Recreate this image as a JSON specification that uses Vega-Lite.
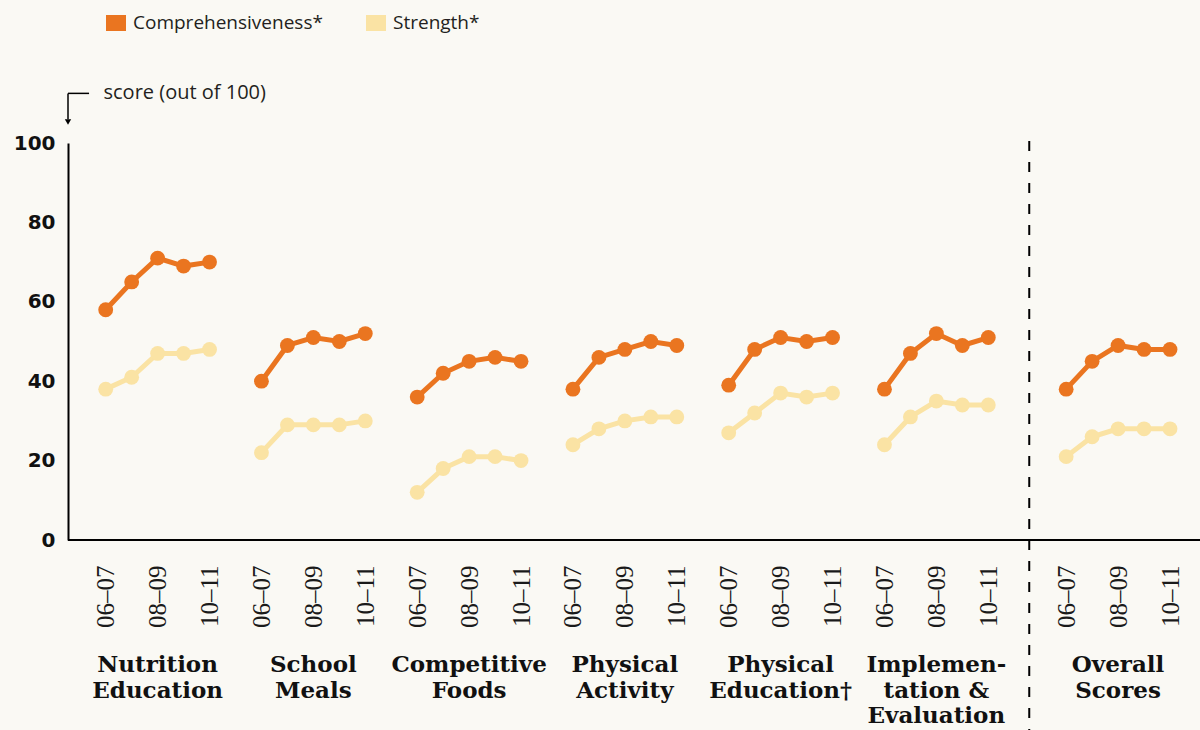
{
  "$schema": "https://vega.github.io/schema/vega-lite/v6.json",
  "width": 1132,
  "height": 397,
  "autosize": {"type": "none"},
  "padding": {"left": 68, "top": 143, "right": 0, "bottom": 190},
  "background": "#FAF9F4",
  "config": {"view": {"stroke": null}},
  "datasets": {
    "scores": [
      {"area": "Nutrition Education", "year": "06–07", "key": "NE 06–07", "measure": "Comprehensiveness", "score": 58},
      {"area": "Nutrition Education", "year": "07–08", "key": "NE 07–08", "measure": "Comprehensiveness", "score": 65},
      {"area": "Nutrition Education", "year": "08–09", "key": "NE 08–09", "measure": "Comprehensiveness", "score": 71},
      {"area": "Nutrition Education", "year": "09–10", "key": "NE 09–10", "measure": "Comprehensiveness", "score": 69},
      {"area": "Nutrition Education", "year": "10–11", "key": "NE 10–11", "measure": "Comprehensiveness", "score": 70},
      {"area": "Nutrition Education", "year": "06–07", "key": "NE 06–07", "measure": "Strength", "score": 38},
      {"area": "Nutrition Education", "year": "07–08", "key": "NE 07–08", "measure": "Strength", "score": 41},
      {"area": "Nutrition Education", "year": "08–09", "key": "NE 08–09", "measure": "Strength", "score": 47},
      {"area": "Nutrition Education", "year": "09–10", "key": "NE 09–10", "measure": "Strength", "score": 47},
      {"area": "Nutrition Education", "year": "10–11", "key": "NE 10–11", "measure": "Strength", "score": 48},
      {"area": "School Meals", "year": "06–07", "key": "SM 06–07", "measure": "Comprehensiveness", "score": 40},
      {"area": "School Meals", "year": "07–08", "key": "SM 07–08", "measure": "Comprehensiveness", "score": 49},
      {"area": "School Meals", "year": "08–09", "key": "SM 08–09", "measure": "Comprehensiveness", "score": 51},
      {"area": "School Meals", "year": "09–10", "key": "SM 09–10", "measure": "Comprehensiveness", "score": 50},
      {"area": "School Meals", "year": "10–11", "key": "SM 10–11", "measure": "Comprehensiveness", "score": 52},
      {"area": "School Meals", "year": "06–07", "key": "SM 06–07", "measure": "Strength", "score": 22},
      {"area": "School Meals", "year": "07–08", "key": "SM 07–08", "measure": "Strength", "score": 29},
      {"area": "School Meals", "year": "08–09", "key": "SM 08–09", "measure": "Strength", "score": 29},
      {"area": "School Meals", "year": "09–10", "key": "SM 09–10", "measure": "Strength", "score": 29},
      {"area": "School Meals", "year": "10–11", "key": "SM 10–11", "measure": "Strength", "score": 30},
      {"area": "Competitive Foods", "year": "06–07", "key": "CF 06–07", "measure": "Comprehensiveness", "score": 36},
      {"area": "Competitive Foods", "year": "07–08", "key": "CF 07–08", "measure": "Comprehensiveness", "score": 42},
      {"area": "Competitive Foods", "year": "08–09", "key": "CF 08–09", "measure": "Comprehensiveness", "score": 45},
      {"area": "Competitive Foods", "year": "09–10", "key": "CF 09–10", "measure": "Comprehensiveness", "score": 46},
      {"area": "Competitive Foods", "year": "10–11", "key": "CF 10–11", "measure": "Comprehensiveness", "score": 45},
      {"area": "Competitive Foods", "year": "06–07", "key": "CF 06–07", "measure": "Strength", "score": 12},
      {"area": "Competitive Foods", "year": "07–08", "key": "CF 07–08", "measure": "Strength", "score": 18},
      {"area": "Competitive Foods", "year": "08–09", "key": "CF 08–09", "measure": "Strength", "score": 21},
      {"area": "Competitive Foods", "year": "09–10", "key": "CF 09–10", "measure": "Strength", "score": 21},
      {"area": "Competitive Foods", "year": "10–11", "key": "CF 10–11", "measure": "Strength", "score": 20},
      {"area": "Physical Activity", "year": "06–07", "key": "PA 06–07", "measure": "Comprehensiveness", "score": 38},
      {"area": "Physical Activity", "year": "07–08", "key": "PA 07–08", "measure": "Comprehensiveness", "score": 46},
      {"area": "Physical Activity", "year": "08–09", "key": "PA 08–09", "measure": "Comprehensiveness", "score": 48},
      {"area": "Physical Activity", "year": "09–10", "key": "PA 09–10", "measure": "Comprehensiveness", "score": 50},
      {"area": "Physical Activity", "year": "10–11", "key": "PA 10–11", "measure": "Comprehensiveness", "score": 49},
      {"area": "Physical Activity", "year": "06–07", "key": "PA 06–07", "measure": "Strength", "score": 24},
      {"area": "Physical Activity", "year": "07–08", "key": "PA 07–08", "measure": "Strength", "score": 28},
      {"area": "Physical Activity", "year": "08–09", "key": "PA 08–09", "measure": "Strength", "score": 30},
      {"area": "Physical Activity", "year": "09–10", "key": "PA 09–10", "measure": "Strength", "score": 31},
      {"area": "Physical Activity", "year": "10–11", "key": "PA 10–11", "measure": "Strength", "score": 31},
      {"area": "Physical Education", "year": "06–07", "key": "PE 06–07", "measure": "Comprehensiveness", "score": 39},
      {"area": "Physical Education", "year": "07–08", "key": "PE 07–08", "measure": "Comprehensiveness", "score": 48},
      {"area": "Physical Education", "year": "08–09", "key": "PE 08–09", "measure": "Comprehensiveness", "score": 51},
      {"area": "Physical Education", "year": "09–10", "key": "PE 09–10", "measure": "Comprehensiveness", "score": 50},
      {"area": "Physical Education", "year": "10–11", "key": "PE 10–11", "measure": "Comprehensiveness", "score": 51},
      {"area": "Physical Education", "year": "06–07", "key": "PE 06–07", "measure": "Strength", "score": 27},
      {"area": "Physical Education", "year": "07–08", "key": "PE 07–08", "measure": "Strength", "score": 32},
      {"area": "Physical Education", "year": "08–09", "key": "PE 08–09", "measure": "Strength", "score": 37},
      {"area": "Physical Education", "year": "09–10", "key": "PE 09–10", "measure": "Strength", "score": 36},
      {"area": "Physical Education", "year": "10–11", "key": "PE 10–11", "measure": "Strength", "score": 37},
      {"area": "Implementation & Evaluation", "year": "06–07", "key": "IE 06–07", "measure": "Comprehensiveness", "score": 38},
      {"area": "Implementation & Evaluation", "year": "07–08", "key": "IE 07–08", "measure": "Comprehensiveness", "score": 47},
      {"area": "Implementation & Evaluation", "year": "08–09", "key": "IE 08–09", "measure": "Comprehensiveness", "score": 52},
      {"area": "Implementation & Evaluation", "year": "09–10", "key": "IE 09–10", "measure": "Comprehensiveness", "score": 49},
      {"area": "Implementation & Evaluation", "year": "10–11", "key": "IE 10–11", "measure": "Comprehensiveness", "score": 51},
      {"area": "Implementation & Evaluation", "year": "06–07", "key": "IE 06–07", "measure": "Strength", "score": 24},
      {"area": "Implementation & Evaluation", "year": "07–08", "key": "IE 07–08", "measure": "Strength", "score": 31},
      {"area": "Implementation & Evaluation", "year": "08–09", "key": "IE 08–09", "measure": "Strength", "score": 35},
      {"area": "Implementation & Evaluation", "year": "09–10", "key": "IE 09–10", "measure": "Strength", "score": 34},
      {"area": "Implementation & Evaluation", "year": "10–11", "key": "IE 10–11", "measure": "Strength", "score": 34},
      {"area": "Overall Scores", "year": "06–07", "key": "OS 06–07", "measure": "Comprehensiveness", "score": 38},
      {"area": "Overall Scores", "year": "07–08", "key": "OS 07–08", "measure": "Comprehensiveness", "score": 45},
      {"area": "Overall Scores", "year": "08–09", "key": "OS 08–09", "measure": "Comprehensiveness", "score": 49},
      {"area": "Overall Scores", "year": "09–10", "key": "OS 09–10", "measure": "Comprehensiveness", "score": 48},
      {"area": "Overall Scores", "year": "10–11", "key": "OS 10–11", "measure": "Comprehensiveness", "score": 48},
      {"area": "Overall Scores", "year": "06–07", "key": "OS 06–07", "measure": "Strength", "score": 21},
      {"area": "Overall Scores", "year": "07–08", "key": "OS 07–08", "measure": "Strength", "score": 26},
      {"area": "Overall Scores", "year": "08–09", "key": "OS 08–09", "measure": "Strength", "score": 28},
      {"area": "Overall Scores", "year": "09–10", "key": "OS 09–10", "measure": "Strength", "score": 28},
      {"area": "Overall Scores", "year": "10–11", "key": "OS 10–11", "measure": "Strength", "score": 28}
    ],
    "groups": [
      {"label": "Nutrition\nEducation", "key": "NE 08–09"},
      {"label": "School\nMeals", "key": "SM 08–09"},
      {"label": "Competitive\nFoods", "key": "CF 08–09"},
      {"label": "Physical\nActivity", "key": "PA 08–09"},
      {"label": "Physical\nEducation†", "key": "PE 08–09"},
      {"label": "Implemen-\ntation &\nEvaluation", "key": "IE 08–09"},
      {"label": "Overall\nScores", "key": "OS 08–09"}
    ]
  },
  "layer": [
    {
      "layer": [
        {
          "data": {"name": "scores"},
          "mark": {"type": "line", "strokeWidth": 5},
          "encoding": {
            "x": {
              "field": "key", "type": "ordinal", "sort": null,
              "scale": {
                "type": "point", "padding": 0, "range": [37.7, 1102],
                "domain": ["NE 06–07","NE 07–08","NE 08–09","NE 09–10","NE 10–11","gap1",
                           "SM 06–07","SM 07–08","SM 08–09","SM 09–10","SM 10–11","gap2",
                           "CF 06–07","CF 07–08","CF 08–09","CF 09–10","CF 10–11","gap3",
                           "PA 06–07","PA 07–08","PA 08–09","PA 09–10","PA 10–11","gap4",
                           "PE 06–07","PE 07–08","PE 08–09","PE 09–10","PE 10–11","gap5",
                           "IE 06–07","IE 07–08","IE 08–09","IE 09–10","IE 10–11","gap6","gap7",
                           "OS 06–07","OS 07–08","OS 08–09","OS 09–10","OS 10–11"]
              },
              "axis": {
                "title": null, "labelAngle": 270, "labelFont": "Liberation Serif", "labelFontSize": 25,
                "labelColor": "#1a1a1a", "labelPadding": 25, "ticks": false, "domain": false,
                "labelOverlap": false, "grid": false,
                "labelExpr": "indexof(['06–07','08–09','10–11'], slice(datum.value, -5)) >= 0 ? slice(datum.value, -5) : ''"
              }
            },
            "y": {
              "field": "score", "type": "quantitative",
              "scale": {"domain": [0, 100], "nice": false},
              "axis": {
                "values": [0, 20, 40, 60, 80, 100], "grid": false, "ticks": false,
                "labelFont": "DejaVu Sans", "labelFontWeight": "bold", "labelFontSize": 20,
                "labelColor": "#111111", "labelPadding": 13, "domainColor": "#000000", "domainWidth": 2,
                "title": "score (out of 100)", "titleAngle": 0, "titleAlign": "left", "titleBaseline": "middle",
                "titleX": 35, "titleY": -51, "titleFont": "Open Sans", "titleFontSize": 20,
                "titleFontWeight": "normal", "titleColor": "#231F20"
              }
            },
            "detail": {"field": "area"},
            "color": {
              "field": "measure", "type": "nominal",
              "scale": {"domain": ["Comprehensiveness", "Strength"], "range": ["#EA7520", "#FAE3A4"]},
              "legend": {
                "orient": "none", "legendX": 38, "legendY": -130, "direction": "horizontal", "title": null,
                "symbolType": "M-1,-0.8H1V0.8H-1Z", "symbolSize": 400, "symbolStrokeWidth": 0,
                "labelFont": "Open Sans", "labelFontSize": 19, "labelColor": "#231F20", "labelLimit": 400,
                "columnPadding": 43, "labelOffset": 7, "labelExpr": "datum.label + '*'"
              }
            }
          }
        },
        {
          "data": {"name": "scores"},
          "mark": {"type": "point", "filled": true, "size": 220, "opacity": 1},
          "encoding": {
            "x": {"field": "key", "type": "ordinal", "sort": null},
            "y": {"field": "score", "type": "quantitative"},
            "color": {
              "field": "measure", "type": "nominal",
              "legend": {
                "orient": "none", "legendX": 38, "legendY": -130, "direction": "horizontal", "title": null,
                "symbolType": "M-1,-0.8H1V0.8H-1Z", "symbolSize": 400, "symbolStrokeWidth": 0,
                "labelFont": "Open Sans", "labelFontSize": 19, "labelColor": "#231F20", "labelLimit": 400,
                "columnPadding": 43, "labelOffset": 7, "labelExpr": "datum.label + '*'"
              }
            }
          }
        },
        {
          "data": {"name": "groups"},
          "mark": {"type": "text", "lineBreak": "\n", "font": "DejaVu Serif", "fontWeight": "bold",
                   "fontSize": 23, "align": "center", "baseline": "top", "lineHeight": 25.5, "color": "#111111"},
          "encoding": {
            "x": {"field": "key", "type": "ordinal", "sort": null},
            "y": {"datum": -28.8, "type": "quantitative"},
            "text": {"field": "label"}
          }
        },
        {
          "data": {"values": [{}]},
          "mark": {"type": "rule", "strokeDash": [10, 11], "strokeWidth": 2, "color": "#000000", "xOffset": 15},
          "encoding": {
            "x": {"datum": "gap6", "type": "ordinal"},
            "y": {"datum": 100.5, "type": "quantitative"},
            "y2": {"datum": -48}
          }
        }
      ]
    },
    {
      "data": {"values": [{}]},
      "layer": [
        {
          "mark": {"type": "rule", "strokeWidth": 2, "color": "#000000"},
          "encoding": {
            "x": {"datum": 0, "type": "quantitative", "scale": {"domain": [0, 1]}, "axis": null},
            "x2": {"datum": 1},
            "y": {"datum": 0, "type": "quantitative"}
          }
        },
        {
          "mark": {"type": "rule", "strokeWidth": 1.5, "color": "#000000"},
          "encoding": {
            "x": {"datum": 0, "type": "quantitative", "scale": {"domain": [0, 1]}, "axis": null},
            "x2": {"datum": 0.0186},
            "y": {"datum": 112.5, "type": "quantitative"}
          }
        },
        {
          "mark": {"type": "rule", "strokeWidth": 1.5, "color": "#000000"},
          "encoding": {
            "x": {"datum": 0, "type": "quantitative", "scale": {"domain": [0, 1]}, "axis": null},
            "y": {"datum": 112.5, "type": "quantitative"},
            "y2": {"datum": 106}
          }
        },
        {
          "mark": {"type": "point", "shape": "triangle-down", "filled": true, "size": 40, "color": "#000000", "opacity": 1},
          "encoding": {
            "x": {"datum": 0, "type": "quantitative", "scale": {"domain": [0, 1]}, "axis": null},
            "y": {"datum": 105.3, "type": "quantitative"}
          }
        }
      ]
    }
  ],
  "resolve": {"scale": {"x": "independent"}}
}
